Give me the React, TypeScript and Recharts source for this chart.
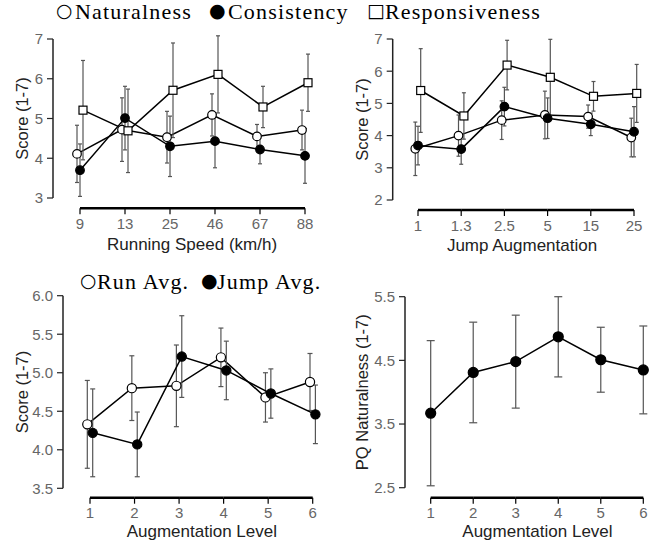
import React from 'react';
import { ErrorBar, Legend, Line, LineChart, XAxis, YAxis } from 'recharts';

// running speed (km/h)
const speedCats = ['9', '13', '25', '46', '67', '88'];
const speedNat = [4.11, 4.72, 4.53, 5.09, 4.55, 4.71];
const speedNatSd = [0.72, 0.8, 0.65, 0.53, 0.3, 0.5];
const speedCon = [3.7, 5.01, 4.3, 4.43, 4.22, 4.06];
const speedConSd = [0.66, 0.8, 0.76, 0.67, 0.36, 0.69];
const speedRes = [5.21, 4.69, 5.71, 6.11, 5.29, 5.9];
const speedResSd = [1.25, 1.05, 1.19, 0.97, 0.52, 0.72];

// jump augmentation
const jumpCats = ['1', '1.3', '2.5', '5', '15', '25'];
const jumpNat = [3.59, 4.0, 4.48, 4.64, 4.59, 3.94];
const jumpNatSd = [0.83, 0.64, 0.6, 0.74, 0.36, 0.6];
const jumpCon = [3.69, 3.58, 4.9, 4.54, 4.35, 4.12];
const jumpConSd = [0.6, 0.47, 0.6, 0.63, 0.35, 0.78];
const jumpRes = [5.4, 4.61, 6.19, 5.81, 5.22, 5.31];
const jumpResSd = [1.3, 0.72, 0.77, 1.18, 0.46, 0.9];

// averages per augmentation level
const levels = ['1', '2', '3', '4', '5', '6'];
const runAvg = [4.33, 4.8, 4.83, 5.2, 4.68, 4.88];
const runAvgSd = [0.57, 0.42, 0.53, 0.38, 0.32, 0.37];
const jumpAvg = [4.22, 4.07, 5.21, 5.03, 4.73, 4.46];
const jumpAvgSd = [0.57, 0.42, 0.53, 0.38, 0.32, 0.38];

// presence questionnaire naturalness
const pqNat = [3.67, 4.31, 4.48, 4.87, 4.51, 4.35];
const pqNatSd = [1.14, 0.79, 0.73, 0.63, 0.51, 0.69];

const speedData = speedCats.map((cat, i) => ({
    cat,
    nat: speedNat[i], natSd: speedNatSd[i],
    con: speedCon[i], conSd: speedConSd[i],
    res: speedRes[i], resSd: speedResSd[i],
}));

const jumpData = jumpCats.map((cat, i) => ({
    cat,
    nat: jumpNat[i], natSd: jumpNatSd[i],
    con: jumpCon[i], conSd: jumpConSd[i],
    res: jumpRes[i], resSd: jumpResSd[i],
}));

const avgData = levels.map((cat, i) => ({
    cat,
    run: runAvg[i], runSd: runAvgSd[i],
    jump: jumpAvg[i], jumpSd: jumpAvgSd[i],
}));

const pqData = levels.map((cat, i) => ({ cat, pq: pqNat[i], pqSd: pqNatSd[i] }));

const sans = '"Liberation Sans", Arial, sans-serif';
const serif = '"Liberation Serif", "Times New Roman", serif';

type Kind = 'open' | 'filled' | 'square';
type Series = { key: string; sd: string; kind: Kind; axis: string };

const makeDot = (kind: Kind, r: number) => (p: any) => {
    if (p.cx == null || p.cy == null) return <g key={p.index} />;
    if (kind === 'square') {
        return <rect key={p.index} x={p.cx - 4} y={p.cy - 4} width={8} height={8} fill="#fff" stroke="#000" strokeWidth={1.2} />;
    }
    return (
        <circle key={p.index} cx={p.cx} cy={p.cy} r={r}
            fill={kind === 'filled' ? '#000' : '#fff'} stroke="#000" strokeWidth={1.2} />
    );
};

// x axis drawn detached below the plot: thick line from first to last tick
const makeTick = (step: number, base: number, count: number) => (p: any) => {
    const { x, index, payload } = p;
    return (
        <g key={index}>
            {index < count - 1 && (
                <line x1={x} y1={base} x2={x + step} y2={base} stroke="#000" strokeWidth={2.5} />
            )}
            <line x1={x} y1={base} x2={x} y2={base + 6} stroke="#000" strokeWidth={1.2} />
            <text x={x} y={base + 10} dy="0.71em" textAnchor="middle" fill="#666" fontSize={15} fontFamily={sans}>
                {payload.value}
            </text>
        </g>
    );
};

type PanelProps = {
    left: number;
    top: number;
    width: number;
    height: number;
    margin: { top: number; right: number; bottom: number; left: number };
    data: any[];
    series: Series[];
    dodge: number;
    xPad: number;
    step: number;
    gap: number;
    xHeight: number;
    yDomain: [number, number];
    yTicks: number[];
    yFmt?: (v: number) => string;
    yLabel: string;
    xLabel: string;
    yLabelOffset: number;
    xLabelOffset: number;
    xLabelShift: number;
    cap: number;
    r: number;
    legend?: React.ReactNode;
};

const Panel = (props: PanelProps) => {
    const { left, top, width, height, margin, data, series, dodge, xPad, cap, r } = props;
    const plotBottom = height - margin.bottom - props.xHeight;
    return (
        <div style={{ position: 'absolute', left, top }}>
            <LineChart width={width} height={height} data={data} margin={margin}>
                <XAxis
                    xAxisId="m"
                    dataKey="cat"
                    interval={0}
                    height={props.xHeight}
                    padding={{ left: xPad, right: 0 }}
                    axisLine={false}
                    tickLine={false}
                    tickSize={0}
                    tickMargin={0}
                    tick={makeTick(props.step, plotBottom + props.gap, data.length)}
                    label={{
                        value: props.xLabel,
                        position: 'insideBottom',
                        offset: props.xLabelOffset,
                        style: {
                            fill: '#222', fontSize: 17, fontFamily: sans,
                            transform: `translateX(${props.xLabelShift}px)`,
                        },
                    }}
                />
                <XAxis xAxisId="l" dataKey="cat" hide height={0} padding={{ left: xPad - dodge, right: dodge }} />
                <XAxis xAxisId="r" dataKey="cat" hide height={0} padding={{ left: xPad + dodge, right: -dodge }} />
                <YAxis
                    domain={props.yDomain}
                    ticks={props.yTicks}
                    tickFormatter={props.yFmt}
                    allowDataOverflow
                    interval={0}
                    width={50}
                    tickSize={6}
                    tickMargin={4}
                    axisLine={{ stroke: '#222', strokeWidth: 1.5 }}
                    tickLine={{ stroke: '#222', strokeWidth: 1.2 }}
                    tick={{ fill: '#666', fontSize: 15, fontFamily: sans }}
                    label={{
                        value: props.yLabel,
                        angle: -90,
                        position: 'insideLeft',
                        offset: props.yLabelOffset,
                        style: { textAnchor: 'middle', fill: '#222', fontSize: 16.5, fontFamily: sans },
                    }}
                />
                {series.map(s => (
                    <Line
                        key={s.key}
                        xAxisId={s.axis}
                        dataKey={s.key}
                        type="linear"
                        stroke="#000"
                        strokeWidth={1.5}
                        dot={makeDot(s.kind, r)}
                        activeDot={false}
                        isAnimationActive={false}
                    >
                        {s.kind !== 'square' && (
                            <ErrorBar dataKey={s.sd} width={cap} stroke="#555" strokeWidth={1.2} direction="y" />
                        )}
                    </Line>
                ))}
                {series.filter(s => s.kind === 'square').map(s => (
                    <Line
                        key={s.key + '-err'}
                        xAxisId={s.axis}
                        dataKey={s.key}
                        stroke="none"
                        dot={false}
                        activeDot={false}
                        isAnimationActive={false}
                    >
                        <ErrorBar dataKey={s.sd} width={cap} stroke="#555" strokeWidth={1.2} direction="y" />
                    </Line>
                ))}
                {props.legend && (
                    <Legend
                        verticalAlign="middle"
                        align="center"
                        layout="horizontal"
                        wrapperStyle={{ top: 0, left: 0, width: 640, height: 28 }}
                        content={() => props.legend}
                    />
                )}
            </LineChart>
        </div>
    );
};

const word: React.CSSProperties = {
    position: 'absolute',
    top: 1,
    fontFamily: serif,
    fontSize: 22,
    lineHeight: '22px',
    letterSpacing: 1.2,
    color: '#000',
    whiteSpace: 'nowrap',
};

const sym: React.CSSProperties = {
    position: 'absolute',
    top: -1,
    fontFamily: '"DejaVu Sans", sans-serif',
    fontSize: 19,
    lineHeight: '22px',
    color: '#000',
    whiteSpace: 'nowrap',
};

const LegendItem = ({ s, text, sx, tx }: { s: string; text: string; sx: number; tx: number }) => (
    <>
        <span style={{ ...sym, left: sx }}>{s}</span>
        <span style={{ ...word, left: tx }}>{text}</span>
    </>
);

const css = `.recharts-wrapper g[clip-path] { clip-path: none !important; }`;

export default function App() {
    return (
        <div style={{ position: 'absolute', left: 0, top: 0, width: 658, height: 545, background: '#fff', overflow: 'hidden' }}>
            <style>{css}</style>
            <Panel
                left={0} top={0} width={330} height={270}
                margin={{ top: 39, right: 25, bottom: 12, left: 3 }}
                data={speedData}
                series={[
                    { key: 'nat', sd: 'natSd', kind: 'open', axis: 'l' },
                    { key: 'con', sd: 'conSd', kind: 'filled', axis: 'm' },
                    { key: 'res', sd: 'resSd', kind: 'square', axis: 'r' },
                ]}
                dodge={3} xPad={27} step={45} gap={10.3} xHeight={60}
                yDomain={[3, 7]} yTicks={[3, 4, 5, 6, 7]}
                yLabel="Score (1-7)" xLabel="Running Speed (km/h)"
                yLabelOffset={19} xLabelOffset={8} xLabelShift={13}
                cap={2} r={4.3}
                legend={
                    <div style={{ position: 'relative', height: 28 }}>
                        <LegendItem s="○" text="Naturalness" sx={56} tx={75} />
                        <LegendItem s="●" text="Consistency" sx={209} tx={228} />
                        <LegendItem s="□" text="Responsiveness" sx={367} tx={385} />
                    </div>
                }
            />
            <Panel
                left={330} top={0} width={328} height={270}
                margin={{ top: 39, right: 24, bottom: 10, left: 12.7 }}
                data={jumpData}
                series={[
                    { key: 'nat', sd: 'natSd', kind: 'open', axis: 'l' },
                    { key: 'con', sd: 'conSd', kind: 'filled', axis: 'm' },
                    { key: 'res', sd: 'resSd', kind: 'square', axis: 'r' },
                ]}
                dodge={2.7} xPad={25.3} step={43.2} gap={10} xHeight={60}
                yDomain={[2, 7]} yTicks={[2, 3, 4, 5, 6, 7]}
                yLabel="Score (1-7)" xLabel="Jump Augmentation"
                yLabelOffset={19.3} xLabelOffset={9.5} xLabelShift={8.7}
                cap={2} r={4.3}
            />
            <Panel
                left={0} top={270} width={330} height={275}
                margin={{ top: 25.7, right: 17.3, bottom: 1.7, left: 13 }}
                data={avgData}
                series={[
                    { key: 'run', sd: 'runSd', kind: 'open', axis: 'l' },
                    { key: 'jump', sd: 'jumpSd', kind: 'filled', axis: 'r' },
                ]}
                dodge={2.7} xPad={27} step={44.54} gap={9.4} xHeight={55}
                yDomain={[3.5, 6]} yTicks={[3.5, 4, 4.5, 5, 5.5, 6]}
                yFmt={(v: number) => v.toFixed(1)}
                yLabel="Score (1-7)" xLabel="Augmentation Level"
                yLabelOffset={9} xLabelOffset={6.3} xLabelShift={14}
                cap={2.5} r={4.6}
                legend={
                    <div style={{ position: 'relative', height: 28 }}>
                        <LegendItem s="○" text="Run Avg." sx={80} tx={97} />
                        <LegendItem s="●" text="Jump Avg." sx={201} tx={217} />
                    </div>
                }
            />
            <Panel
                left={330} top={270} width={328} height={275}
                margin={{ top: 26.7, right: 14.7, bottom: 2.3, left: 25 }}
                data={pqData}
                series={[{ key: 'pq', sd: 'pqSd', kind: 'filled', axis: 'm' }]}
                dodge={0} xPad={25.7} step={42.52} gap={10} xHeight={55}
                yDomain={[2.5, 5.5]} yTicks={[2.5, 3.5, 4.5, 5.5]}
                yFmt={(v: number) => v.toFixed(1)}
                yLabel="PQ Naturalness (1-7)" xLabel="Augmentation Level"
                yLabelOffset={7} xLabelOffset={5.7} xLabelShift={13.3}
                cap={4} r={5}
            />
        </div>
    );
}
